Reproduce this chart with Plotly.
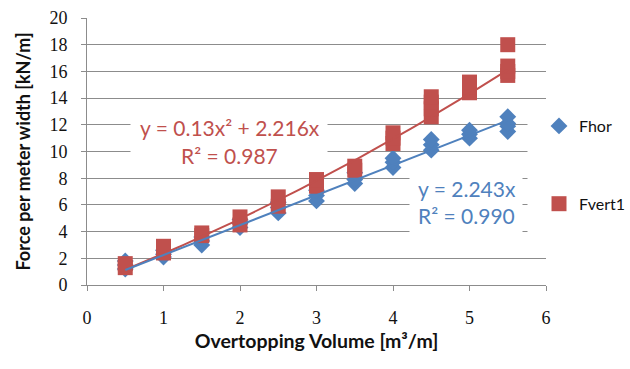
import numpy as np
import plotly.graph_objects as go

# ---- data ----
x_levels = [0.5, 1.0, 1.5, 2.0, 2.5, 3.0, 3.5, 4.0, 4.5, 5.0, 5.5]

fhor_values = [
    [1.2, 1.5, 1.8],
    [2.1, 2.3, 2.6],
    [3.0, 3.3, 3.6],
    [4.3, 4.6, 4.9],
    [5.4, 5.8, 6.2],
    [6.3, 6.7, 7.1],
    [7.6, 7.9, 8.4],
    [8.8, 9.2, 9.5],
    [10.1, 10.5, 10.9],
    [11.0, 11.3, 11.6],
    [11.5, 11.9, 12.1, 12.6],
]
fvert_values = [
    [1.3, 1.6],
    [2.4, 2.9],
    [3.7, 3.9],
    [4.5, 5.1],
    [5.9, 6.6],
    [7.4, 7.9],
    [8.6, 8.9],
    [10.6, 11.0, 11.4],
    [12.6, 13.2, 13.7, 14.1],
    [14.4, 14.8, 15.2],
    [15.7, 16.0, 16.4, 18.0],
]

# trendline coefficients as displayed (y = a*x^2 + b*x)
fhor_trend = (0.0, 2.243)
fvert_trend = (0.13, 2.216)
fhor_label = ["y = 2.243x", "R² = 0.990"]
fvert_label = ["y = 0.13x² + 2.216x", "R² = 0.987"]

x_ticks = [0, 1, 2, 3, 4, 5, 6]
y_ticks = [0, 2, 4, 6, 8, 10, 12, 14, 16, 18, 20]

BLUE = "#4F81BD"
RED = "#C0504D"
GRID = "#8C8C8C"


def flatten(levels, vals):
    xs, ys = [], []
    for xv, group in zip(levels, vals):
        for v in group:
            xs.append(xv)
            ys.append(v)
    return xs, ys


fx, fy = flatten(x_levels, fhor_values)
vx, vy = flatten(x_levels, fvert_values)

xt = np.linspace(min(x_levels), max(x_levels), 60)
fhor_t = fhor_trend[0] * xt**2 + fhor_trend[1] * xt
fvert_t = fvert_trend[0] * xt**2 + fvert_trend[1] * xt

fig = go.Figure()
fig.add_trace(go.Scatter(x=fx, y=fy, mode="markers", name="Fhor", legendgroup="a",
                         marker=dict(symbol="diamond", size=13, color=BLUE)))
fig.add_trace(go.Scatter(x=vx, y=vy, mode="markers", name="Fvert1", legendgroup="b",
                         marker=dict(symbol="square", size=15, color=RED)))
fig.add_trace(go.Scatter(x=xt, y=fvert_t, mode="lines", line=dict(color=RED, width=2),
                         showlegend=False, hoverinfo="skip"))
fig.add_trace(go.Scatter(x=xt, y=fhor_t, mode="lines", line=dict(color=BLUE, width=2),
                         showlegend=False, hoverinfo="skip"))

L, R, T, B = 87, 84, 18, 84
W, H = 630, 369
pw, ph = W - L - R, H - T - B


def dx(px):
    return (px - L) / pw * 6


def dy(py):
    return (T + ph - py) / ph * 20


annots = []
# white boxes behind trendline labels / legend edge (hide gridlines like Excel)
annots.append(dict(x=dx(229), y=dy(136), xref="x", yref="y", text=" ", showarrow=False,
                   width=196, height=58, bgcolor="white", borderpad=0))
annots.append(dict(x=dx(466), y=dy(208), xref="x", yref="y", text=" ", showarrow=False,
                   width=112, height=74, bgcolor="white", borderpad=0))
annots.append(dict(x=dx(538), y=dy(178), xref="x", yref="y", text=" ", showarrow=False,
                   width=20, height=136, bgcolor="white", borderpad=0))
lab_font = dict(family="Lato", size=21)
annots.append(dict(x=dx(229.5), y=dy(127.5), xref="x", yref="y", text=fvert_label[0],
                   showarrow=False, font=dict(color=RED, **lab_font)))
annots.append(dict(x=dx(229.5), y=dy(155), xref="x", yref="y", text=fvert_label[1],
                   showarrow=False, font=dict(color=RED, **lab_font)))
annots.append(dict(x=dx(466.5), y=dy(188.5), xref="x", yref="y", text=fhor_label[0],
                   showarrow=False, font=dict(color=BLUE, **lab_font)))
annots.append(dict(x=dx(466.5), y=dy(215.5), xref="x", yref="y", text=fhor_label[1],
                   showarrow=False, font=dict(color=BLUE, **lab_font)))

fig.update_layout(
    width=W, height=H,
    margin=dict(l=L, r=R, t=T, b=B, autoexpand=False),
    plot_bgcolor="white", paper_bgcolor="white",
    annotations=annots,
    legend=dict(x=(539 - L) / pw, y=(T + ph - 109) / ph, xanchor="left", yanchor="top",
                bgcolor="white", font=dict(family="Lato", size=16, color="#111111"),
                tracegroupgap=54, traceorder="grouped"),
    xaxis=dict(range=[0, 6], tickvals=x_ticks, showgrid=False, zeroline=False,
               showline=True, linecolor=GRID, linewidth=1, ticks="outside", ticklen=5,
               tickcolor=GRID, ticklabelstandoff=11,
               tickfont=dict(family="Liberation Serif", size=18, color="#111111"),
               title=dict(text="Overtopping Volume [m³/m]", standoff=7,
                          font=dict(family="Lato", size=19.5, color="#111111", weight="bold"))),
    yaxis=dict(range=[0, 20], tickvals=y_ticks, showgrid=True, gridcolor=GRID, gridwidth=1,
               zeroline=False, showline=True, linecolor=GRID, linewidth=1, ticks="outside",
               ticklen=5, tickcolor=GRID, ticklabelstandoff=10,
               tickfont=dict(family="Liberation Serif", size=18, color="#111111"),
               title=dict(text="Force per meter width [kN/m]", standoff=14,
                          font=dict(family="Lato", size=18, color="#111111", weight="bold"))),
)

fig.write_html("out.html")
